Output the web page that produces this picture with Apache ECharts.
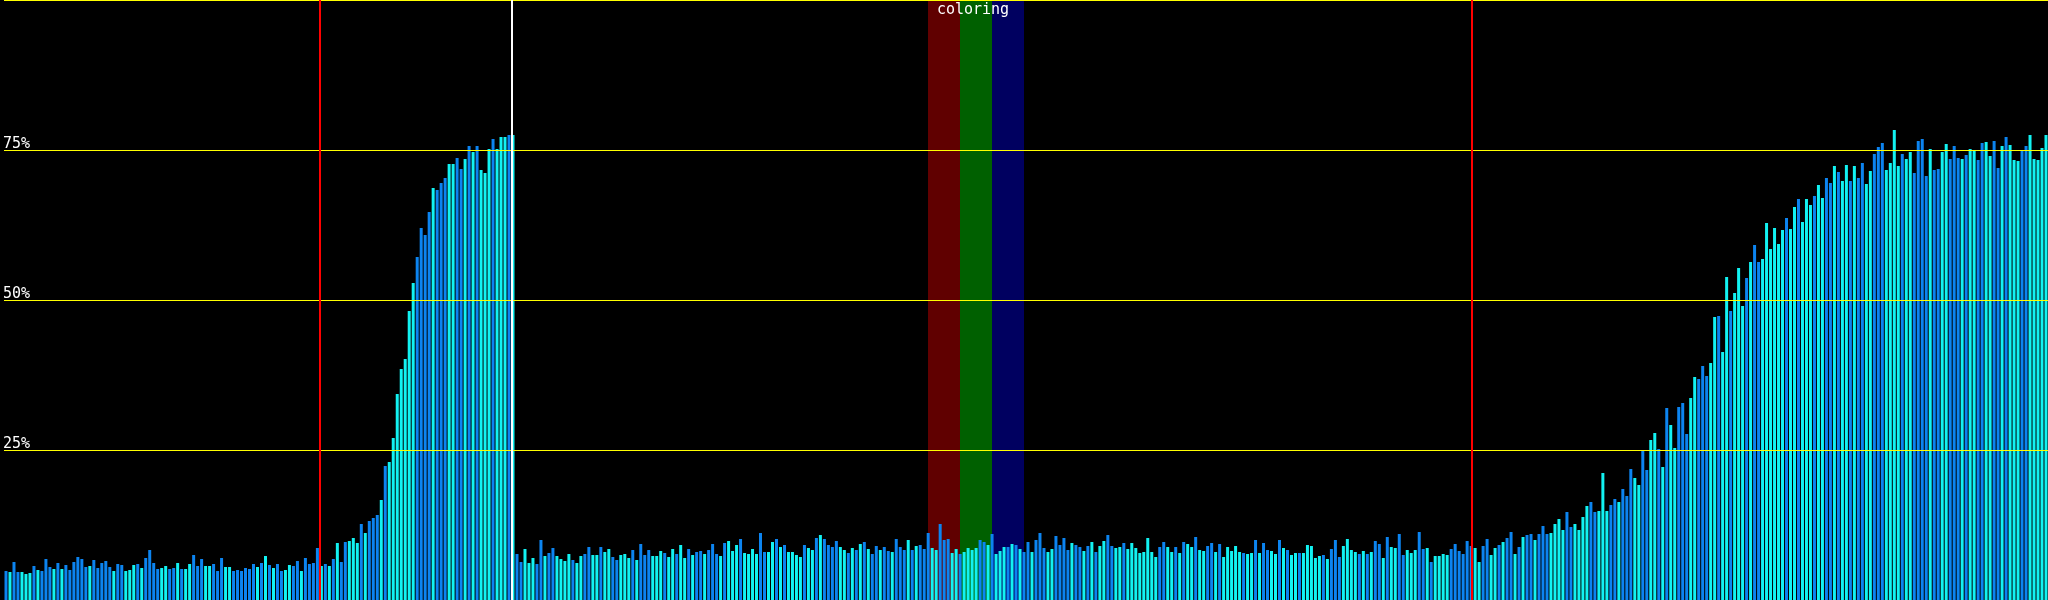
<!DOCTYPE html>
<html><head><meta charset="utf-8">
<script src="https://cdn.jsdelivr.net/npm/echarts@6/dist/echarts.min.js"></script>
<style>html,body{margin:0;padding:0;background:#000;overflow:hidden}#c{width:2048px;height:600px}</style>
</head><body><div id="c"></div>
<script>
// bar values (percent), bars 0-127
const valuesA = [4.83,4.67,6.33,4.67,4.67,4.33,4.5,5.67,5.0,4.83, 6.83,5.5,5.17,6.17,5.17,5.83,5.0,6.33,7.17,6.83,
 5.5,5.67,6.67,5.33,6.17,6.5,5.5,4.83,6.0,5.83, 4.83,5.0,5.83,6.0,5.33,7.0,8.33,6.17,5.17,5.33,
 5.67,5.17,5.33,6.17,5.17,5.17,6.0,7.5,5.67,6.83, 5.67,5.67,6.0,4.83,7.0,5.5,5.5,4.83,5.0,4.83,
 5.33,5.17,6.0,5.5,6.17,7.33,5.83,5.33,6.0,4.83, 5.0,5.83,5.67,6.5,4.83,7.0,6.0,6.17,8.67,5.67,
 6.0,5.67,6.83,9.5,6.33,9.67,9.83,10.33,9.5,12.67, 11.17,13.17,13.67,14.17,16.67,22.33,23.0,27.0,34.33,38.5,
 40.17,48.17,52.83,57.17,62.0,60.83,64.67,68.67,68.33,69.5, 70.33,72.67,72.67,73.67,71.83,73.5,75.67,74.67,75.67,71.67,
 71.17,75.17,76.83,75.17,77.17,77.17,77.5,77.5];
// bars 128-367
const valuesB = [7.67,6.33,8.5,6.17,7.0,6.0,10.0,
 7.33,7.83,8.67,7.33,6.83,6.5,7.67,6.67,6.17,7.33, 7.67,8.83,7.5,7.5,8.83,8.0,8.5,7.17,6.67,7.5,
 7.67,7.0,8.33,6.67,9.33,7.5,8.33,7.33,7.33,8.17, 7.83,7.17,8.5,7.67,9.17,7.0,8.5,7.5,8.0,8.17,
 7.67,8.33,9.33,7.67,7.33,9.5,9.83,8.17,9.17,10.17, 7.83,7.67,8.5,7.67,11.17,8.0,8.0,9.67,10.17,8.83,
 9.17,8.0,8.0,7.5,7.17,9.17,8.67,8.33,10.33,10.83, 10.17,9.17,
 8.83,9.83,8.83,8.33,7.83,8.67,8.33,9.33,9.67,8.5, 7.67,9.0,8.33,8.83,8.17,8.0,10.17,8.83,8.33,10.0,
 8.33,9.0,9.17,8.5,11.17,8.67,8.33,12.67,10.0,10.17, 7.83,8.5,7.67,8.0,8.67,8.33,8.67,10.0,9.67,9.17,
 11.0,7.67,8.17,8.83,8.83,9.33,9.17,8.5,8.0,9.67, 8.0,10.0,11.17,8.67,8.0,8.5,10.67,9.17,10.33,8.33,
 9.5,9.17,8.83,8.17,9.0,9.67,8.0,9.0,9.83,10.83, 9.0,8.67,
 8.83,9.5,8.5,9.5,8.67,7.83,8.0,10.33,8.0,7.17, 8.83,9.67,8.83,8.0,8.83,7.83,9.67,9.33,8.83,10.5,
 8.33,8.17,9.0,9.5,8.0,9.33,7.17,8.83,8.17,9.0, 8.0,7.83,7.67,7.83,10.0,7.83,9.5,8.33,8.17,7.67,
 10.0,8.67,8.33,7.5,7.83,7.83,7.83,9.17,9.0,7.0, 7.33,7.5,6.83,8.5,10.0,7.17,9.0,10.17,8.33,8.0,
 7.67,8.17,7.67,8.0,9.83,9.33,7.0,10.5,8.83,8.67, 11.0,7.5,
 8.33,7.83,8.33,11.33,8.5,8.67,6.33,7.33,7.33,7.67,7.5,8.5,9.33,8.17,7.67,9.83,9.0];
// bars 368-511
const valuesC = [8.67,6.33,9.0,10.17,7.5,8.67,9.17,9.67,10.33,11.33, 7.67,8.83,10.5,10.83,11.0,10.0,11.0,12.33,11.0,11.17,
 12.67,13.5,11.67,14.67,12.17,12.67,11.67,13.83,15.67,16.33, 14.67,14.83,21.17,14.83,15.83,16.83,16.33,18.5,17.33,21.83,
 20.33,19.17,25.0,21.67,26.67,27.83,25.17,22.17,32.0,29.17, 25.33,32.17,32.83,27.67,33.67,37.17,36.83,
 39.0,37.33,39.5,47.17,47.33,41.33,53.83,48.17,51.17,55.33, 49.0,53.67,56.33,59.17,56.33,56.83,62.83,58.5,62.0,59.33,
 61.67,63.67,61.83,65.5,66.83,63.0,66.83,65.83,67.33,69.17, 67.0,70.33,69.5,72.33,71.33,69.83,72.5,69.83,72.33,70.33,
 72.83,69.33,71.5,74.33,75.5,76.17,71.67,72.83,78.33,72.33, 74.33,73.5,74.67,71.17,76.5,76.83,70.67,75.17,71.67,71.83,
 74.67,76.0,73.5,75.67,73.67,73.5,74.17,75.17,74.83,73.33, 76.17,76.33,74.0,76.5,72.0,75.67,77.17,75.83,73.33,73.17,
 74.83,75.67,77.5,73.5,73.33,75.33,77.5];
// colour kind of each bar: b = blue, c = cyan
const kindsA = 'bcbbcccbcb'+'bbcbcbbbbb'+'bcbbbbbcbb'+'cccbcbbbbc'+'cbbcbccbbb'+'ccbbbccbbb'+'bbbcbcbcbb'+'ccbbcbbbbc'+'bcbcbbcccb'+'cbbbcbcccc'+'cccbbbbcbb'+'bccbbcbcbc'+'ccbcccbc';
const kindsB = 'bbcccbb'
 +'cbbccccbcc'+'bbccbccbbc'+'ccbcbbbccc'+'bccbccbcbb'+'cbbbcbcccb'+'ccccbbccbc'+'bccccbccbc'+'bb'
 +'bbccbcbcbc'+'bbcbbcbbbc'+'bcbbbccbbb'+'ccbccccbbc'+'bcccbcbcbb'+'cbbbccbbbb'+'cbbcbcbccb'+'bc'
 +'cbcccccccc'+'bbccbcbccb'+'ccbbcbcccc'+'cbccbcbbcc'+'bcbccbcccc'+'cbcbbbcccc'+'bcbcbbcbcc'+'bb'
 +'cccbbcbccccbbbbbb';
const kindsC = 'ccbbccbcbb'+'cbcbbcbbbc'+'cccbbccccb'+'bcccbbcbbb'+'ccbbccbcbc'+'cbbbccb'
 +'bbccbccbcc'+'cbcbbccccc'+'cbccbcccbc'+'cbbcbccbcb'+'bccbbbcccc'+'bccbbbbcbb'+'ccbbbcbccb'+'bccbbcbccc'+'bbccccc';
const palette = { b: '#0c84f0', c: '#12f2f2' };
const yTickLabels = { 25: '25%', 50: '50%', 75: '75%' };
const markerLines = [ { at: 80, color: '#ff0000' }, { at: 128, color: '#ffffff' }, { at: 368, color: '#ff0000' } ];
const bands = [ { from: 232, to: 240, color: 'rgba(192,0,0,0.5)' }, { from: 240, to: 248, color: 'rgba(0,192,0,0.5)' }, { from: 248, to: 256, color: 'rgba(0,0,192,0.5)' } ];
const bandTitle = { from: 232, to: 256, text: 'coloring' };

const values = valuesA.concat(valuesB, valuesC);
const kinds = (kindsA + kindsB + kindsC).split('');
const categories = values.map((_, i) => String(i));
const barData = values.map((v, i) => ({ value: v, itemStyle: { color: palette[kinds[i]] || palette.b } }));
const FONT = 'DejaVu Sans Mono';

const chart = echarts.init(document.getElementById('c'), null, { renderer: 'canvas' });
chart.setOption({
  backgroundColor: '#000000',
  animation: false,
  grid: [
    { left: 0.5, top: 0, width: 2048, height: 600 },
    { left: 0, top: 0, width: 2048, height: 600 }
  ],
  xAxis: [
    { type: 'category', gridIndex: 0, data: categories, show: false },
    { type: 'value', gridIndex: 1, min: 0, max: values.length, show: false }
  ],
  yAxis: [
    { type: 'value', gridIndex: 0, min: 0, max: 100, interval: 25, z: 5,
      axisLine: { show: false }, axisTick: { show: false },
      splitLine: { show: true, lineStyle: { color: '#ffff00', width: 1 } },
      axisLabel: { inside: true, margin: -1, align: 'left', verticalAlign: 'bottom',
        color: '#ffffff', fontFamily: FONT, fontSize: 15, lineHeight: 12,
        formatter: v => yTickLabels[v] || '' } },
    { type: 'value', gridIndex: 1, min: 0, max: 100, show: false }
  ],
  series: [
    { type: 'bar', xAxisIndex: 0, yAxisIndex: 0, barWidth: 3, data: barData, z: 2, silent: true },
    { type: 'line', xAxisIndex: 1, yAxisIndex: 1, data: [], z: 3, silent: true,
      markArea: { silent: true,
        data: bands.map(b => [ { xAxis: b.from, itemStyle: { color: b.color } }, { xAxis: b.to } ])
          .concat([[ { xAxis: bandTitle.from, itemStyle: { color: 'rgba(0,0,0,0)' },
              label: { show: true, position: 'insideTop', distance: 3, formatter: bandTitle.text,
                color: '#ffffff', fontFamily: FONT, fontSize: 15, offset: [-3, 0] } }, { xAxis: bandTitle.to } ]]),
        label: { show: false } } },
    { type: 'line', xAxisIndex: 1, yAxisIndex: 1, data: [], z: 6, silent: true,
      markLine: { silent: true, symbol: 'none', label: { show: false },
        data: markerLines.map(m => ({ xAxis: m.at, lineStyle: { color: m.color, width: 2, type: 'solid' } })) } }
  ]
});
</script></body></html>
